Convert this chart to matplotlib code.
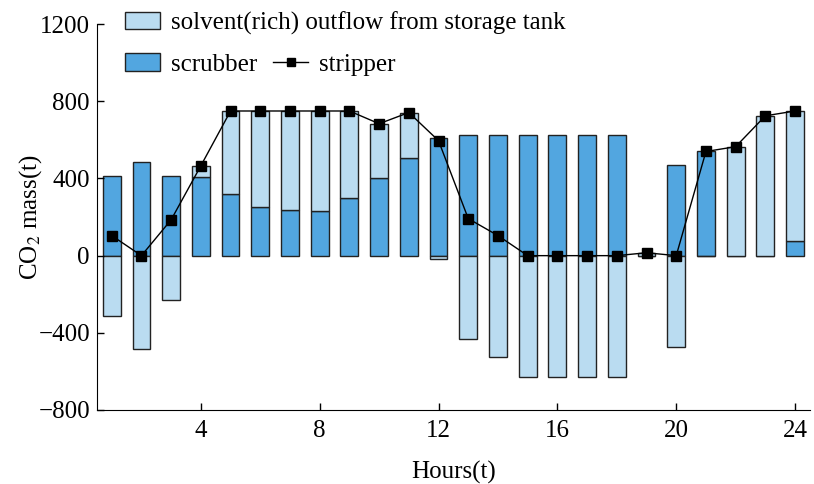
import matplotlib
matplotlib.use("Agg")
import matplotlib.pyplot as plt
import numpy as np

plt.rcParams['font.family'] = ['Liberation Serif', 'DejaVu Serif']
plt.rcParams['mathtext.fontset'] = 'stix'

hours = np.arange(1, 25)
scrubber = [415, 483, 415, 409, 321, 254, 236, 229, 298, 402, 506, 611,
            627, 627, 627, 627, 627, 627, 0, 468, 540, 0, 0, 76]
solvent = [-313, -485, -232, 57, 429, 496, 514, 521, 452, 282, 236, -17,
           -434, -525, -627, -627, -627, -627, 15, -473, 0, 565, 725, 674]
stripper = [104, 0, 186, 466, 750, 750, 750, 750, 750, 684, 742, 596,
            192, 104, 0, 0, 0, 0, 15, 0, 540, 565, 725, 750]

light = '#badcf1'
dark = '#52a6e0'
edge = '#222222'
fs = 18

fig = plt.figure(figsize=(8.14, 4.84), dpi=100)
ax = fig.add_axes([0.119, 0.153, 0.876, 0.797])

# solvent sits on top of scrubber when positive, hangs from zero when negative
solvent_bottom = [s if v > 0 else 0 for s, v in zip(scrubber, solvent)]

b_scr = ax.bar(hours, scrubber, width=0.6, color=dark, edgecolor=edge, linewidth=1)
b_sol = ax.bar(hours, solvent, width=0.6, bottom=solvent_bottom, color=light,
               edgecolor=edge, linewidth=1)
ln, = ax.plot(hours, stripper, color='black', lw=1, marker='s', markersize=6.5)

ax.set_xlim(0.5, 24.5)
ax.set_ylim(-800, 1200)
ax.set_xticks([4, 8, 12, 16, 20, 24])
ax.set_yticks([-800, -400, 0, 400, 800, 1200])
ax.set_yticklabels(['\u2212800', '\u2212400', '0', '400', '800', '1200'])
ax.tick_params(direction='in', length=5, width=1, labelsize=fs)
ax.tick_params(axis='x', pad=7)
ax.tick_params(axis='y', pad=5)
ax.spines['top'].set_visible(False)
ax.spines['right'].set_visible(False)
ax.set_xlabel('Hours(t)', fontsize=fs, labelpad=14)
ax.set_ylabel('CO$_2$ mass(t)', fontsize=fs, labelpad=-4)

leg_kw = dict(frameon=False, loc='center left', fontsize=fs, handlelength=1.4,
              handletextpad=0.45, borderpad=0, borderaxespad=0, markerscale=0.85)
leg1 = ax.legend([b_sol], ['solvent(rich) outflow from storage tank'],
                 bbox_to_anchor=(0.039, 1.003), **leg_kw)
ax.add_artist(leg1)
ax.legend([b_scr, ln], ['scrubber', 'stripper'], ncol=2, columnspacing=0.64,
          bbox_to_anchor=(0.039, 0.895), **leg_kw)

fig.savefig('out.png', dpi=100)
